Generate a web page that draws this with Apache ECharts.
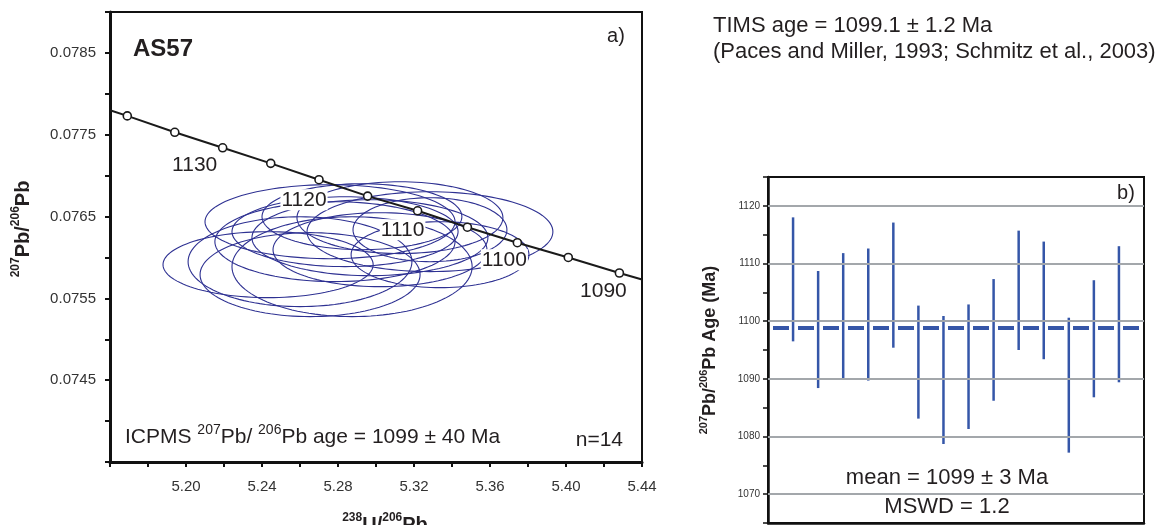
<!DOCTYPE html>
<html><head><meta charset="utf-8">
<script src="https://cdn.jsdelivr.net/npm/echarts@6/dist/echarts.min.js"></script>
<style>html,body{margin:0;padding:0;background:#fff}#c{width:1169px;height:525px}</style>
</head><body><div id="c"></div>
<script>
// ---------- Panel a) Tera-Wasserburg concordia ----------
const concordiaAges = [1140, 1135, 1130, 1125, 1120, 1115, 1110, 1105, 1100, 1095, 1090];
const concordiaX = [5.1691, 5.1941, 5.2193, 5.2446, 5.2700, 5.2956, 5.3219, 5.3481, 5.3744, 5.4012, 5.4281];
const concordiaY = [0.07773, 0.07753, 0.07734, 0.07715, 0.07695, 0.07675, 0.07657, 0.07637, 0.07618, 0.07600, 0.07581];
const concordiaEndX = [5.16, 5.44];
const concordiaEndY = [0.07780, 0.07573];
const concordiaLabelAges = [1130, 1120, 1110, 1100, 1090];

// error ellipses: centre and half-axes (2 sigma)
const ellipseX  = [5.2432, 5.2600, 5.2653, 5.2758, 5.2784, 5.2837, 5.2874, 5.2968, 5.2926, 5.3021, 5.3126, 5.3284, 5.3337, 5.3284];
const ellipseY  = [0.075912, 0.075948, 0.075790, 0.076437, 0.076193, 0.076315, 0.075887, 0.076241, 0.076498, 0.076095, 0.076486, 0.076339, 0.076034, 0.076315];
const ellipseSX = [0.0553, 0.0589, 0.0579, 0.0658, 0.0632, 0.0595, 0.0632, 0.0621, 0.0526, 0.0563, 0.0542, 0.0405, 0.0468, 0.0647];
const ellipseSY = [0.000403, 0.000549, 0.000513, 0.000452, 0.000488, 0.000427, 0.000610, 0.000464, 0.000403, 0.000452, 0.000439, 0.000391, 0.000403, 0.000488];

const xTickLabelsA = ['5.20', '5.24', '5.28', '5.32', '5.36', '5.40', '5.44'];
const yTickLabelsA = ['0.0745', '0.0755', '0.0765', '0.0775', '0.0785'];

// ---------- Panel b) 207Pb/206Pb ages ----------
const spotIndex = [1, 2, 3, 4, 5, 6, 7, 8, 9, 10, 11, 12, 13, 14];
const spotLow  = [1096.5, 1088.4, 1090.0, 1089.7, 1095.4, 1083.1, 1078.7, 1081.3, 1086.2, 1095.0, 1093.4, 1077.2, 1086.8, 1089.4];
const spotHigh = [1118.0, 1108.7, 1111.8, 1112.6, 1117.1, 1102.7, 1100.9, 1102.9, 1107.3, 1115.7, 1113.8, 1100.6, 1107.1, 1113.0];
const meanAge = 1098.8;
const yTickLabelsB = ['1070', '1080', '1090', '1100', '1110', '1120'];

// ---------- styles ----------
const FONT = "'Liberation Sans', Arial, Helvetica, sans-serif";
const TXT = '#231f20';
const ELL = '#2e3192';
const BAR = '#3556a8';
const labelOffsets = {1130: [-28, 17], 1120: [-15, 20], 1110: [-15, 19], 1100: [-13, 17], 1090: [-16, 18]};

const concordiaData = [];
concordiaData.push({value: [concordiaEndX[0], concordiaEndY[0]], symbol: 'none'});
concordiaAges.forEach((age, i) => {
  const item = {value: [concordiaX[i], concordiaY[i]]};
  if (concordiaLabelAges.includes(age)) {
    item.label = {
      show: true, formatter: String(age), position: 'inside', offset: labelOffsets[age],
      fontSize: 21, color: TXT, fontFamily: FONT, backgroundColor: '#fff', padding: [0, 1]
    };
  }
  concordiaData.push(item);
});
concordiaData.push({value: [concordiaEndX[1], concordiaEndY[1]], symbol: 'none'});

const supRich = (size, mainSize, bold) => ({
  s: {fontSize: size, fontWeight: bold ? 'bold' : 'normal', fontFamily: FONT, color: TXT, verticalAlign: 'top', lineHeight: size},
  b: {fontSize: mainSize, fontWeight: bold ? 'bold' : 'normal', fontFamily: FONT, color: TXT, lineHeight: mainSize + 6}
});

const chart = echarts.init(document.getElementById('c'), null, {renderer: 'canvas'});
const option = {
  animation: false,
  backgroundColor: '#fff',
  grid: [
    {left: 110, top: 12, width: 532, height: 450, show: true, borderColor: '#111', borderWidth: 2,
     containLabel: false, outerBoundsMode: 'none'},
    {left: 768, top: 177, width: 376, height: 346, show: true, borderColor: '#111', borderWidth: 2,
     containLabel: false, outerBoundsMode: 'none'}
  ],
  xAxis: [
    {
      gridIndex: 0, type: 'value', min: 5.16, max: 5.44, interval: 0.02,
      axisLine: {onZero: false, lineStyle: {color: '#111', width: 3}},
      axisTick: {length: 5, lineStyle: {color: '#111', width: 2}},
      axisLabel: {fontSize: 15, color: '#333', fontFamily: FONT, margin: 17,
        formatter: v => xTickLabelsA.includes(v.toFixed(2)) ? v.toFixed(2) : ''},
      splitLine: {show: false},
      name: '{s|238}{b|U/}{s|206}{b|Pb}', nameLocation: 'middle', nameGap: 50,
      nameTextStyle: {rich: supRich(12, 20, true), padding: [0, 0, 0, 18]}
    },
    {
      gridIndex: 1, type: 'value', min: 0, max: 15,
      axisLine: {onZero: false, lineStyle: {color: '#111', width: 2.5}},
      axisTick: {show: false}, axisLabel: {show: false}, splitLine: {show: false}
    }
  ],
  yAxis: [
    {
      gridIndex: 0, type: 'value', min: 0.0735, max: 0.0790, interval: 0.0005,
      axisLine: {onZero: false, lineStyle: {color: '#111', width: 3}},
      axisTick: {length: 5, lineStyle: {color: '#111', width: 2}},
      axisLabel: {fontSize: 15, color: '#333', fontFamily: FONT, margin: 14,
        formatter: v => yTickLabelsA.includes(v.toFixed(4)) ? v.toFixed(4) : ''},
      splitLine: {show: false},
      name: '{s|207}{b|Pb/}{s|206}{b|Pb}', nameLocation: 'middle', nameGap: 74, nameRotate: 90,
      nameTextStyle: {rich: supRich(12, 20, true), padding: [0, 0, 0, 16]}
    },
    {
      gridIndex: 1, type: 'value', min: 1065, max: 1125, interval: 5,
      axisLine: {onZero: false, lineStyle: {color: '#111', width: 2.5}},
      axisTick: {length: 5, lineStyle: {color: '#111', width: 1.5}},
      axisLabel: {fontSize: 10, color: '#333', fontFamily: FONT, margin: 8,
        formatter: v => yTickLabelsB.includes(v.toFixed(0)) ? v.toFixed(0) : ''},
      splitLine: {show: false},
      name: '{s|207}{b|Pb/}{s|206}{b|Pb Age (Ma)}', nameLocation: 'middle', nameGap: 46, nameRotate: 90,
      nameTextStyle: {rich: supRich(11, 18, true)}
    }
  ],
  series: [
    {
      type: 'custom', xAxisIndex: 0, yAxisIndex: 0, z: 2, clip: true,
      data: ellipseX.map((x, i) => [x, ellipseY[i], ellipseSX[i], ellipseSY[i]]),
      encode: {x: 0, y: 1},
      renderItem: (params, api) => {
        const cx = api.value(0), cy = api.value(1), sx = api.value(2), sy = api.value(3);
        const pts = [];
        for (let k = 0; k < 120; k++) {
          const t = k / 120 * Math.PI * 2;
          pts.push(api.coord([cx + sx * Math.cos(t), cy + sy * Math.sin(t)]));
        }
        return {type: 'polygon', shape: {points: pts}, style: {fill: 'none', stroke: ELL, lineWidth: 1.1}};
      }
    },
    {
      type: 'line', xAxisIndex: 0, yAxisIndex: 0, z: 5,
      data: concordiaData,
      symbol: 'circle', symbolSize: 8, showAllSymbol: true,
      lineStyle: {color: '#1a1a1a', width: 2},
      itemStyle: {color: '#fff', borderColor: '#1a1a1a', borderWidth: 1.6}
    },
    {
      type: 'line', xAxisIndex: 1, yAxisIndex: 1, z: 1, data: [],
      markLine: {
        silent: true, symbol: 'none', label: {show: false}, animation: false,
        lineStyle: {color: '#a3a7ab', width: 2, type: 'solid'},
        data: yTickLabelsB.map(v => ({yAxis: Number(v)}))
      }
    },
    {
      type: 'custom', xAxisIndex: 1, yAxisIndex: 1, z: 3,
      data: spotIndex.map((s, i) => [s, spotLow[i], spotHigh[i]]),
      encode: {x: 0, y: [1, 2]},
      renderItem: (params, api) => {
        const p1 = api.coord([api.value(0), api.value(1)]);
        const p2 = api.coord([api.value(0), api.value(2)]);
        return {type: 'line', shape: {x1: p1[0], y1: p1[1], x2: p2[0], y2: p2[1]},
          style: {stroke: BAR, lineWidth: 2.5}};
      },
      markLine: {
        silent: true, symbol: 'none', label: {show: false}, animation: false, z: 4,
        lineStyle: {color: BAR, width: 4, type: [16, 9], dashOffset: 20},
        data: [{yAxis: meanAge}]
      }
    }
  ],
  graphic: [
    {type: 'text', x: 133, y: 49, style: {text: 'AS57', font: 'bold 24px ' + FONT, fill: TXT, verticalAlign: 'middle'}},
    {type: 'text', x: 616, y: 36, style: {text: 'a)', font: '20px ' + FONT, fill: TXT, align: 'center', verticalAlign: 'middle'}},
    {type: 'text', x: 125, y: 437, style: {
      text: '{m|ICPMS }{s|207}{m|Pb/ }{s|206}{m|Pb age = 1099 ± 40 Ma}',
      verticalAlign: 'middle',
      rich: {m: {fontSize: 21, fontFamily: FONT, fill: TXT, lineHeight: 27}, s: {fontSize: 14, fontFamily: FONT, fill: TXT, verticalAlign: 'top', lineHeight: 14}}
    }},
    {type: 'text', x: 623, y: 440, style: {text: 'n=14', font: '21px ' + FONT, fill: TXT, align: 'right', verticalAlign: 'middle'}},
    {type: 'text', x: 713, y: 26, style: {text: 'TIMS age = 1099.1 ± 1.2 Ma', font: '22px ' + FONT, fill: TXT, verticalAlign: 'middle'}},
    {type: 'text', x: 713, y: 52, style: {text: '(Paces and Miller, 1993; Schmitz et al., 2003)', font: '22px ' + FONT, fill: TXT, verticalAlign: 'middle'}},
    {type: 'text', x: 1126, y: 193, style: {text: 'b)', font: '20px ' + FONT, fill: TXT, align: 'center', verticalAlign: 'middle'}},
    {type: 'text', x: 947, y: 478, style: {text: 'mean = 1099 ± 3 Ma', font: '22px ' + FONT, fill: TXT, align: 'center', verticalAlign: 'middle'}},
    {type: 'text', x: 947, y: 507, style: {text: 'MSWD = 1.2', font: '22px ' + FONT, fill: TXT, align: 'center', verticalAlign: 'middle'}}
  ]
};
chart.setOption(option);
</script>
</body></html>
